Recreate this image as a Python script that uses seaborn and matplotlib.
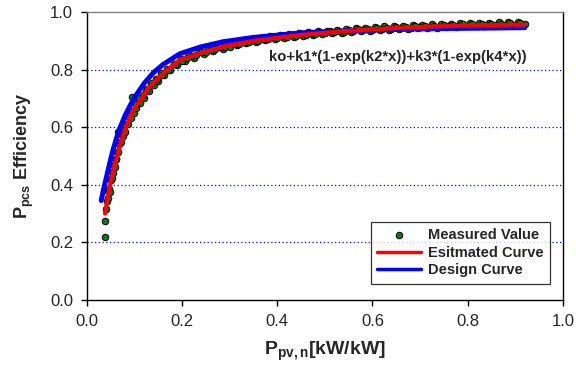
import matplotlib
matplotlib.use("Agg")
import matplotlib.pyplot as plt
import seaborn as sns
import pandas as pd

# ---- data ----
meas_x = [0.038, 0.038, 0.040, 0.042, 0.044, 0.045, 0.047, 0.048, 0.050, 0.052,
          0.053, 0.055, 0.057, 0.058, 0.060, 0.062, 0.064, 0.065, 0.066, 0.068,
          0.070, 0.072, 0.074, 0.076, 0.078, 0.080, 0.083, 0.086, 0.089, 0.092,
          0.095, 0.095, 0.098,
          0.101, 0.104, 0.108, 0.112, 0.116, 0.120, 0.125, 0.130, 0.135, 0.140,
          0.145, 0.150, 0.156, 0.162, 0.168, 0.175, 0.182, 0.190, 0.198, 0.206,
          0.215, 0.225, 0.235, 0.245, 0.255, 0.265, 0.275, 0.285, 0.295,
          0.305, 0.315, 0.325, 0.335, 0.345, 0.355, 0.365, 0.375, 0.385, 0.395,
          0.405, 0.415, 0.425, 0.435, 0.445, 0.455, 0.465, 0.475, 0.485, 0.495,
          0.505, 0.515, 0.525, 0.535, 0.545, 0.555, 0.565, 0.575, 0.585, 0.595,
          0.605, 0.615, 0.625, 0.635, 0.645, 0.655, 0.665, 0.675, 0.685, 0.695,
          0.705, 0.715, 0.725, 0.735, 0.745, 0.755, 0.765, 0.775, 0.785, 0.795,
          0.805, 0.815, 0.825, 0.835, 0.845, 0.855, 0.865, 0.875, 0.885, 0.895,
          0.905, 0.915, 0.920]
meas_y = [0.218, 0.275, 0.315, 0.345, 0.355, 0.380, 0.385, 0.375, 0.415, 0.425,
          0.445, 0.440, 0.470, 0.460, 0.490, 0.488, 0.515, 0.585, 0.515, 0.540,
          0.548, 0.550, 0.572, 0.570, 0.592, 0.585, 0.610, 0.612, 0.635, 0.632,
          0.655, 0.705, 0.650,
          0.690, 0.668, 0.695, 0.685, 0.705, 0.700, 0.728, 0.725, 0.750, 0.745,
          0.768, 0.760, 0.788, 0.780, 0.802, 0.798, 0.820, 0.815, 0.838, 0.830,
          0.850, 0.842, 0.862, 0.855, 0.873, 0.865, 0.882, 0.872, 0.888,
          0.895, 0.884, 0.901, 0.891, 0.906, 0.897, 0.911, 0.902, 0.916, 0.906,
          0.919, 0.910, 0.923, 0.914, 0.927, 0.917, 0.931, 0.920, 0.934, 0.923,
          0.936, 0.926, 0.939, 0.928, 0.942, 0.930, 0.944, 0.933, 0.946, 0.935,
          0.948, 0.937, 0.950, 0.939, 0.952, 0.940, 0.953, 0.942, 0.955, 0.944,
          0.956, 0.945, 0.958, 0.946, 0.959, 0.947, 0.960, 0.949, 0.961, 0.950,
          0.962, 0.951, 0.963, 0.952, 0.963, 0.953, 0.964, 0.954, 0.965, 0.955,
          0.964, 0.955, 0.958]

# second pass of measured points (denser band)
band_x = [0.103, 0.110, 0.118, 0.127, 0.137, 0.147, 0.158, 0.170, 0.185, 0.200,
          0.210, 0.220, 0.230, 0.240, 0.250, 0.260, 0.270, 0.280, 0.290,
          0.300, 0.310, 0.320, 0.330, 0.340, 0.350, 0.360, 0.370, 0.380, 0.390,
          0.400, 0.410, 0.420, 0.430, 0.440, 0.450, 0.460, 0.470, 0.480, 0.490,
          0.500, 0.510, 0.520, 0.530, 0.540, 0.550, 0.560, 0.570, 0.580, 0.590,
          0.600, 0.610, 0.620, 0.630, 0.640, 0.650, 0.660, 0.670, 0.680, 0.690,
          0.700, 0.710, 0.720, 0.730, 0.740, 0.750, 0.760, 0.770, 0.780, 0.790,
          0.800, 0.810, 0.820, 0.830, 0.840, 0.850, 0.860, 0.870, 0.880, 0.890,
          0.900, 0.910]
band_y = [0.682, 0.700, 0.712, 0.732, 0.752, 0.768, 0.782, 0.800, 0.818, 0.830,
          0.840, 0.848, 0.852, 0.860, 0.863, 0.870, 0.872, 0.878, 0.878,
          0.880, 0.888, 0.889, 0.896, 0.895, 0.903, 0.901, 0.907, 0.906, 0.912,
          0.910, 0.916, 0.914, 0.920, 0.918, 0.924, 0.921, 0.927, 0.924, 0.930,
          0.927, 0.933, 0.930, 0.936, 0.932, 0.938, 0.935, 0.940, 0.937, 0.942,
          0.939, 0.944, 0.941, 0.946, 0.943, 0.948, 0.944, 0.949, 0.946, 0.951,
          0.947, 0.952, 0.948, 0.953, 0.949, 0.955, 0.950, 0.956, 0.951, 0.957,
          0.952, 0.958, 0.953, 0.959, 0.954, 0.959, 0.955, 0.960, 0.955, 0.961,
          0.956, 0.961]

est_x = [0.038, 0.042, 0.045, 0.050, 0.055, 0.060, 0.065, 0.070, 0.080, 0.090,
         0.100, 0.115, 0.130, 0.150, 0.165, 0.195, 0.237, 0.286, 0.350, 0.450,
         0.550, 0.650, 0.720, 0.800, 0.920]
est_y = [0.300, 0.340, 0.368, 0.410, 0.448, 0.480, 0.510, 0.540, 0.592, 0.632,
         0.665, 0.700, 0.738, 0.772, 0.795, 0.833, 0.857, 0.880, 0.900, 0.921,
         0.935, 0.945, 0.950, 0.954, 0.957]

des_x = [0.030, 0.035, 0.040, 0.045, 0.050, 0.055, 0.060, 0.065, 0.070, 0.080,
         0.090, 0.100, 0.120, 0.140, 0.160, 0.195, 0.237, 0.286, 0.350, 0.450,
         0.550, 0.650, 0.750, 0.920]
des_y = [0.345, 0.385, 0.420, 0.455, 0.490, 0.522, 0.550, 0.578, 0.600, 0.640,
         0.673, 0.703, 0.752, 0.790, 0.818, 0.855, 0.878, 0.897, 0.912, 0.928,
         0.935, 0.940, 0.943, 0.946]

x_ticks = [0.0, 0.2, 0.4, 0.6, 0.8, 1.0]
y_ticks = [0.0, 0.2, 0.4, 0.6, 0.8, 1.0]
formula = "ko+k1*(1-exp(k2*x))+k3*(1-exp(k4*x))"

# ---- style ----
sns.set_style("ticks")
plt.rcParams['font.family'] = ['Liberation Sans', 'DejaVu Sans']
plt.rcParams['mathtext.fontset'] = 'custom'
plt.rcParams['mathtext.rm'] = 'Liberation Sans'
plt.rcParams['mathtext.bf'] = 'Liberation Sans:bold'
plt.rcParams['mathtext.it'] = 'Liberation Sans:italic'

fig = plt.figure(figsize=(5.76, 3.67), dpi=100)
ax = fig.add_axes([0.151, 0.183, 0.826, 0.784])

df_m = pd.DataFrame({"x": meas_x + band_x, "y": meas_y + band_y})
df_e = pd.DataFrame({"x": est_x, "y": est_y})
df_d = pd.DataFrame({"x": des_x, "y": des_y})

sns.scatterplot(data=df_m, x="x", y="y", ax=ax, color="#0a7d0a", edgecolor="black",
                linewidth=0.7, s=22, zorder=3, label="Measured Value")
sns.lineplot(data=df_d, x="x", y="y", ax=ax, color="#0000ff", linewidth=3.6,
             zorder=4, label="Design Curve", sort=False)
sns.lineplot(data=df_e, x="x", y="y", ax=ax, color="#ff0000", linewidth=3.0,
             zorder=5, label="Esitmated Curve", sort=False)

ax.set_xlim(0, 1.0)
ax.set_ylim(0, 1.0)
ax.set_xticks(x_ticks)
ax.set_yticks(y_ticks)
ax.set_xticklabels([f"{v:.1f}" for v in x_ticks], fontsize=12)
ax.set_yticklabels([f"{v:.1f}" for v in y_ticks], fontsize=12)
ax.tick_params(direction="out", length=4, width=1, color="black", pad=6)

for yv in [0.2, 0.4, 0.6, 0.8]:
    ax.axhline(yv, color="#0000ff", linestyle=(0, (1, 2)), linewidth=0.9, zorder=1)

for s in ["left", "bottom", "right"]:
    ax.spines[s].set_visible(True)
    ax.spines[s].set_color("black")
    ax.spines[s].set_linewidth(1.0)
ax.spines["top"].set_visible(True)
ax.spines["top"].set_color("#808080")
ax.spines["top"].set_linewidth(1.0)

ax.set_xlabel(r"$\mathbf{P_{pv,n}}$" + "[kW/kW]", fontsize=14, fontweight="bold", labelpad=8)
ax.set_ylabel(r"$\mathbf{P_{pcs}}$" + " Efficiency", fontsize=13, fontweight="bold", labelpad=10)

ax.text(0.383, 0.845, formula, fontsize=10.7, fontweight="bold", ha="left", va="center")

h, l = ax.get_legend_handles_labels()
order = [l.index("Measured Value"), l.index("Esitmated Curve"), l.index("Design Curve")]
leg = ax.legend([h[i] for i in order], [l[i] for i in order], loc="lower right",
                bbox_to_anchor=(0.980, 0.045), frameon=True, fancybox=False,
                edgecolor="black", prop={"weight": "bold", "size": 10.5},
                handlelength=3.0, handletextpad=0.5, borderpad=0.45,
                labelspacing=0.25, borderaxespad=0.2)
leg.get_frame().set_linewidth(0.9)
for lh in leg.get_lines():
    lh.set_linewidth(2.5)

fig.savefig("out.png", dpi=100)
